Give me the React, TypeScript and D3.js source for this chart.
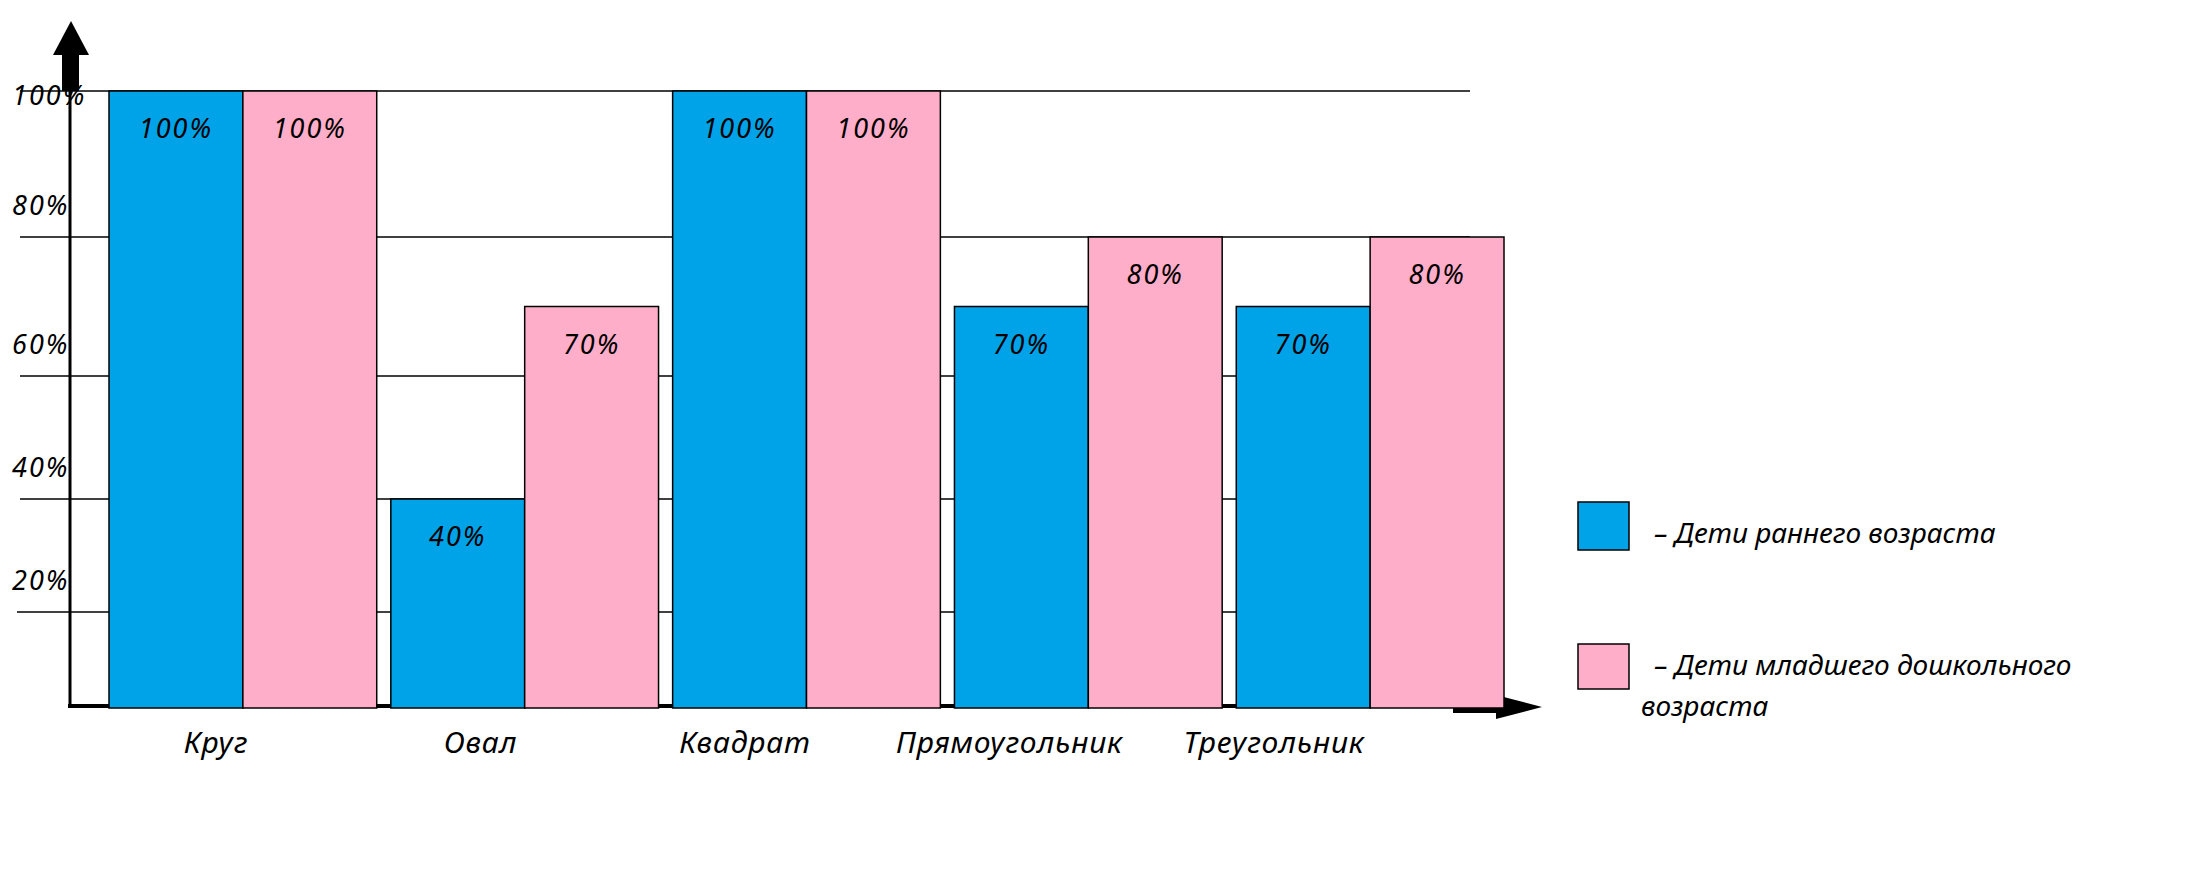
import { useRef, useEffect } from 'react';
import * as d3 from 'd3';

const categories = ['Круг', 'Овал', 'Квадрат', 'Прямоугольник', 'Треугольник'];
const earlyAge = [100, 40, 100, 70, 70];
const preschool = [100, 70, 100, 80, 80];
const seriesKeys = ['early', 'preschool'];
const seriesColors = ['#00A2E8', '#FFAEC9'];
const legendLines = [
  ['– Дети раннего возраста'],
  ['– Дети младшего дошкольного', 'возраста'],
];
const yTicks = [20, 40, 60, 80, 100];

const W = 2204;
const H = 894;
const FONT = '"Noto Sans", "Open Sans", sans-serif';

export default function App() {
  const svgRef = useRef<SVGSVGElement>(null);

  useEffect(() => {
    const svg = d3.select(svgRef.current);
    svg.selectAll('*').remove();

    const xScale = d3.scaleBand<string>().domain(categories).range([109, 1504]).paddingInner(0.05);
    const inner = d3.scaleBand<string>().domain(seriesKeys).range([0, xScale.bandwidth()]);
    // category captions sit a bit tighter than the bar groups
    const labelScale = d3.scalePoint<string>().domain(categories).range([216, 1274]);
    // hand-drawn axis: gridlines are not evenly spaced, so map through each tick
    const yScale = d3.scaleLinear()
      .domain([0, ...yTicks])
      .range([705, 612, 499, 376, 237, 91]);

    const gridLeft = 20;
    const gridRight = 1470;

    const txt = (size: number, spacing: number) => (sel: d3.Selection<SVGTextElement, unknown, null, undefined>) =>
      sel.attr('font-family', FONT).attr('font-style', 'italic')
        .attr('font-size', size).attr('letter-spacing', spacing)
        .attr('fill', '#000');

    // gridlines
    yTicks.forEach(t => {
      svg.append('line')
        .attr('x1', t === 20 ? gridLeft - 3 : gridLeft).attr('x2', gridRight)
        .attr('y1', yScale(t)).attr('y2', yScale(t))
        .attr('stroke', '#000').attr('stroke-width', 1.5);
    });

    // tick labels
    yTicks.forEach(t => {
      svg.append('text')
        .attr('x', 12)
        .attr('y', t === 100 ? yScale(t) + 7 : yScale(t) - 29)
        .attr('dominant-baseline', 'middle')
        .call(txt(27, 2))
        .text(`${t}%`);
    });

    // axes
    const axisX = 70;
    const y0 = yScale(0);
    const yTop = yScale(100);
    svg.append('line')
      .attr('x1', axisX).attr('x2', axisX)
      .attr('y1', yTop).attr('y2', y0 + 2)
      .attr('stroke', '#000').attr('stroke-width', 3);
    svg.append('rect')
      .attr('x', axisX - 8).attr('y', yTop - 36)
      .attr('width', 17).attr('height', 36).attr('fill', '#000');
    svg.append('path')
      .attr('d', `M${axisX - 17},${yTop - 36}L${axisX + 19},${yTop - 36}L${axisX + 1},${yTop - 70}Z`)
      .attr('fill', '#000');

    const xEnd = 1453;
    svg.append('line')
      .attr('x1', axisX - 2).attr('x2', xEnd)
      .attr('y1', y0 + 1).attr('y2', y0 + 1)
      .attr('stroke', '#000').attr('stroke-width', 4);
    svg.append('rect')
      .attr('x', xEnd).attr('y', y0 - 5)
      .attr('width', 48).attr('height', 13).attr('fill', '#000');
    svg.append('path')
      .attr('d', `M${xEnd + 43},${y0 - 10}L${xEnd + 43},${y0 + 14}L${xEnd + 89},${y0 + 2}Z`)
      .attr('fill', '#000');

    // bars
    const series = [earlyAge, preschool];
    categories.forEach((c, i) => {
      series.forEach((vals, s) => {
        const bx = (xScale(c) ?? 0) + (inner(seriesKeys[s]) ?? 0);
        const bw = inner.bandwidth();
        const v = vals[i];
        svg.append('rect')
          .attr('x', bx).attr('y', yScale(v))
          .attr('width', bw).attr('height', y0 + 3 - yScale(v))
          .attr('fill', seriesColors[s])
          .attr('stroke', '#000').attr('stroke-width', 1.5);
        svg.append('text')
          .attr('x', bx + bw / 2).attr('y', yScale(v) + 40)
          .attr('text-anchor', 'middle').attr('dominant-baseline', 'middle')
          .call(txt(27, 2))
          .text(`${v}%`);
      });
    });

    // category labels
    categories.forEach(c => {
      svg.append('text')
        .attr('x', labelScale(c) ?? 0)
        .attr('y', 745)
        .attr('text-anchor', 'middle').attr('dominant-baseline', 'middle')
        .call(txt(30, 0.8))
        .text(c);
    });

    // legend
    const legendBoxes = [{ y: 502, h: 48 }, { y: 644, h: 45 }];
    legendLines.forEach((lines, s) => {
      const box = legendBoxes[s];
      svg.append('rect')
        .attr('x', 1578).attr('y', box.y)
        .attr('width', 51).attr('height', box.h)
        .attr('fill', seriesColors[s])
        .attr('stroke', '#000').attr('stroke-width', 1.5);
      lines.forEach((line, k) => {
        svg.append('text')
          .attr('x', k === 0 ? 1654 : 1641)
          .attr('y', box.y + (s === 0 ? 41 : 31) + k * 41)
          .call(txt(28, 0))
          .text(line);
      });
    });
  }, []);

  return (
    <svg
      ref={svgRef}
      width={W}
      height={H}
      style={{ position: 'absolute', left: 0, top: 0, background: '#fff' }}
    />
  );
}
